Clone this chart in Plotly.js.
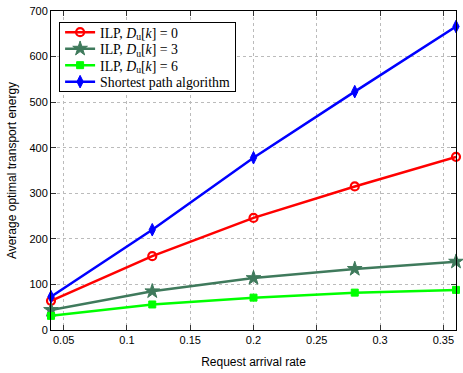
<!DOCTYPE html>
<html><head><meta charset="utf-8">
<script src="https://cdn.plot.ly/plotly-3.0.1.min.js"></script>
<style>body{margin:0;background:#fff}#c{width:463px;height:373px}</style>
</head><body><div id="c"></div>
<script>
var rates = [0.04, 0.12, 0.2, 0.28, 0.36];
var ilp0 = [64, 162, 246, 315, 380];
var ilp3 = [44, 85, 114, 134, 150];
var ilp6 = [31, 56, 71, 82, 88];
var shortest = [73, 220, 378, 523, 666];
var names = ['ILP, <i>D</i><sub>u</sub>[<i>k</i>] = 0', 'ILP, <i>D</i><sub>u</sub>[<i>k</i>] = 3', 'ILP, <i>D</i><sub>u</sub>[<i>k</i>] = 6', 'Shortest path algorithm'];
var xTicks = [0.05, 0.1, 0.15, 0.2, 0.25, 0.3, 0.35];
var xTickText = ['0.05', '0.1', '0.15', '0.2', '0.25', '0.3', '0.35'];
var yTicks = [0, 100, 200, 300, 400, 500, 600, 700];

function tr(y, name, color, symbol, size, lw) {
  return {x: rates, y: y, name: name, type: 'scatter', mode: 'lines+markers',
    line: {color: color, width: 2.5},
    marker: {symbol: symbol, size: size, color: color, line: {color: color, width: lw}},
    cliponaxis: false};
}
var data = [
  tr(ilp0, names[0], '#ff0000', 'circle-open', 8, 2.2),
  tr(ilp3, names[1], '#3f7a5c', 'star', 11, 1),
  tr(ilp6, names[2], '#00ff00', 'square', 7, 1),
  tr(shortest, names[3], '#0000ff', 'diamond-tall', 9, 1)
];
var ax = {showline: true, linecolor: '#000', linewidth: 1, mirror: 'ticks', ticks: 'inside', ticklen: 5,
  tickcolor: '#333', showgrid: true, gridcolor: '#bbbbbb', griddash: 'dot', gridwidth: 1, zeroline: false,
  tickfont: {family: 'Liberation Sans, Arial, sans-serif', size: 11, color: '#000'}};
var layout = {
  width: 463, height: 373, margin: {l: 51, r: 7, t: 11, b: 43},
  paper_bgcolor: '#fff', plot_bgcolor: '#fff', showlegend: true,
  xaxis: Object.assign({}, ax, {range: [0.04, 0.36], tickvals: xTicks, ticktext: xTickText,
    title: {text: 'Request arrival rate', font: {family: 'Liberation Sans, Arial, sans-serif', size: 12, color: '#000'}, standoff: 12}}),
  yaxis: Object.assign({}, ax, {range: [0, 700], tickvals: yTicks,
    title: {text: 'Average optimal transport energy', font: {family: 'Liberation Sans, Arial, sans-serif', size: 12, color: '#000'}, standoff: 10}}),
  legend: {x: 0.02, y: 0.965, xanchor: 'left', yanchor: 'top', bgcolor: '#fff', bordercolor: '#000', borderwidth: 1,
    font: {family: 'Liberation Serif, Times New Roman, serif', size: 13.8, color: '#000'}, tracegroupgap: 0, itemwidth: 30}
};
Plotly.newPlot('c', data, layout, {staticPlot: true}).then(function () {
  // tighten legend row spacing to match reference
  var items = document.querySelectorAll('.legend .traces');
  items.forEach(function (g, i) {
    g.setAttribute('transform', 'translate(1,' + (10 + i * 16.5) + ')');
  });
  var bg = document.querySelector('.legend .bg');
  if (bg) bg.setAttribute('height', 10 + 3 * 16.5 + 9);
});
</script></body></html>
